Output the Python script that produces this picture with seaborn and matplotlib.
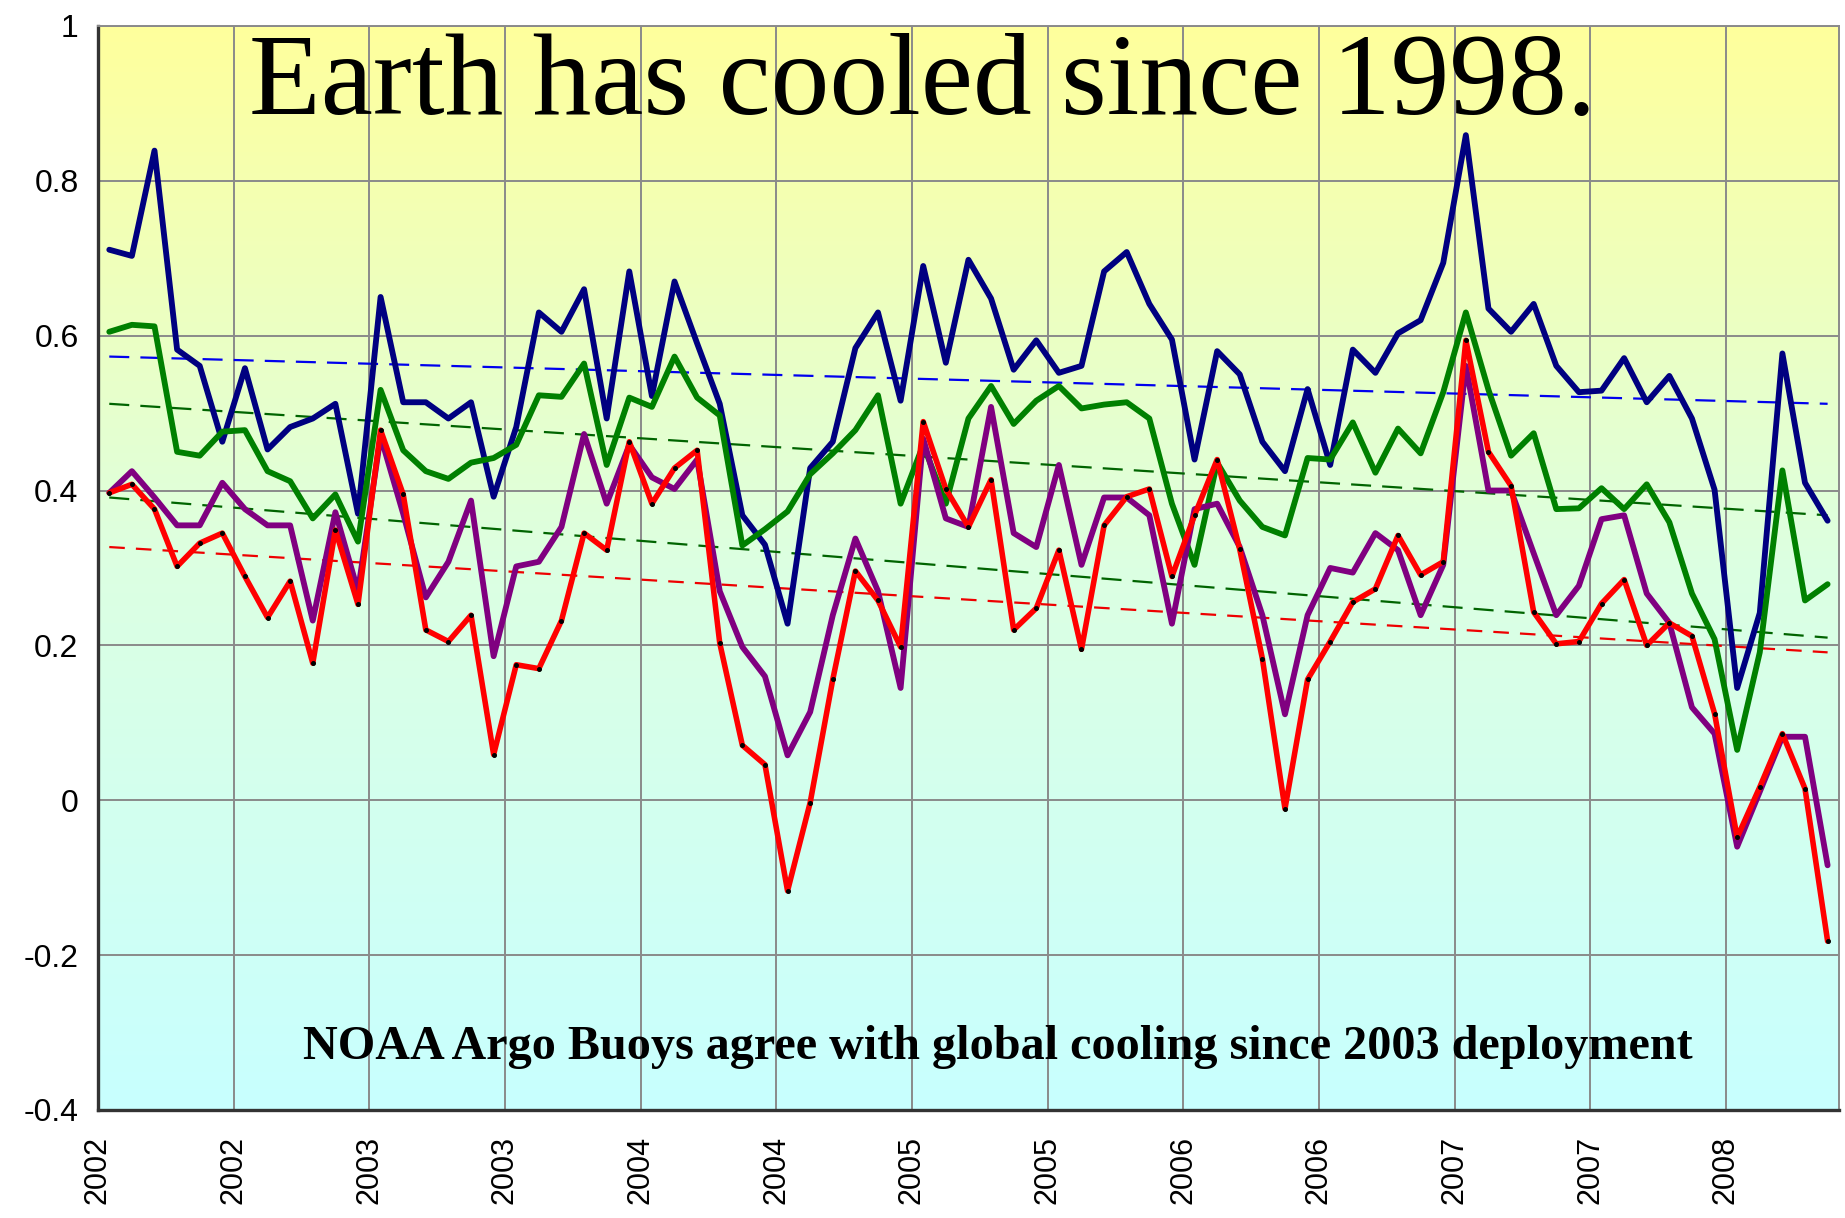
import numpy as np
import pandas as pd
import seaborn as sns
import matplotlib.pyplot as plt
from matplotlib.colors import LinearSegmentedColormap

# monthly temperature anomalies from Jan 2002 (77 months)
months = np.arange(77)

navy = [0.711, 0.703, 0.839, 0.582, 0.561, 0.463, 0.558, 0.453, 0.482, 0.493,
        0.512, 0.370, 0.650, 0.514, 0.514, 0.493, 0.514, 0.392, 0.482, 0.630,
        0.605, 0.660, 0.493, 0.683, 0.522, 0.670, 0.590, 0.512, 0.368, 0.330,
        0.228, 0.429, 0.463, 0.584, 0.630, 0.516, 0.690, 0.565, 0.698, 0.648,
        0.556, 0.594, 0.552, 0.561, 0.683, 0.708, 0.641, 0.595, 0.440, 0.580,
        0.550, 0.463, 0.425, 0.531, 0.433, 0.582, 0.552, 0.603, 0.620, 0.694,
        0.859, 0.635, 0.605, 0.641, 0.561, 0.527, 0.529, 0.571, 0.514, 0.548,
        0.493, 0.401, 0.145, 0.242, 0.577, 0.410, 0.361]

green = [0.605, 0.614, 0.612, 0.450, 0.445, 0.476, 0.478, 0.425, 0.412, 0.364,
         0.395, 0.334, 0.530, 0.452, 0.425, 0.415, 0.436, 0.442, 0.459, 0.523,
         0.521, 0.564, 0.433, 0.520, 0.508, 0.573, 0.520, 0.497, 0.329, 0.350,
         0.373, 0.421, 0.448, 0.478, 0.523, 0.383, 0.459, 0.383, 0.493, 0.535,
         0.486, 0.516, 0.535, 0.506, 0.511, 0.514, 0.493, 0.383, 0.304, 0.436,
         0.387, 0.353, 0.342, 0.442, 0.440, 0.488, 0.423, 0.480, 0.448, 0.527,
         0.630, 0.530, 0.445, 0.474, 0.376, 0.377, 0.403, 0.376, 0.408, 0.359,
         0.267, 0.208, 0.065, 0.191, 0.426, 0.258, 0.279]

purple = [0.397, 0.425, 0.391, 0.355, 0.355, 0.410, 0.376, 0.355, 0.355, 0.232,
          0.372, 0.270, 0.470, 0.370, 0.262, 0.308, 0.387, 0.186, 0.302, 0.308,
          0.353, 0.473, 0.383, 0.459, 0.417, 0.402, 0.440, 0.270, 0.198, 0.160,
          0.058, 0.114, 0.239, 0.338, 0.270, 0.145, 0.467, 0.364, 0.353, 0.508,
          0.345, 0.327, 0.433, 0.304, 0.391, 0.391, 0.368, 0.228, 0.376, 0.383,
          0.327, 0.239, 0.111, 0.239, 0.300, 0.294, 0.345, 0.323, 0.239, 0.304,
          0.561, 0.400, 0.400, 0.319, 0.239, 0.277, 0.363, 0.368, 0.267, 0.229,
          0.120, 0.086, -0.060, 0.011, 0.082, 0.082, -0.084]

red = [0.397, 0.408, 0.376, 0.302, 0.332, 0.345, 0.289, 0.236, 0.283, 0.177,
       0.349, 0.253, 0.478, 0.395, 0.220, 0.205, 0.239, 0.059, 0.175, 0.170,
       0.232, 0.345, 0.323, 0.463, 0.383, 0.429, 0.452, 0.203, 0.071, 0.046,
       -0.117, -0.003, 0.156, 0.296, 0.258, 0.198, 0.489, 0.402, 0.353, 0.414,
       0.220, 0.248, 0.323, 0.195, 0.355, 0.392, 0.402, 0.289, 0.368, 0.440,
       0.324, 0.183, -0.011, 0.156, 0.205, 0.256, 0.273, 0.342, 0.291, 0.308,
       0.594, 0.450, 0.406, 0.243, 0.202, 0.205, 0.254, 0.285, 0.200, 0.229,
       0.212, 0.112, -0.048, 0.017, 0.086, 0.015, -0.182]

# linear trends: value at first and last month
trend_navy = [0.573, 0.512]
trend_green = [0.512, 0.368]
trend_purple = [0.391, 0.210]
trend_red = [0.327, 0.191]

tick_pos = np.arange(-0.5, 77, 6)
tick_labels = ["2002", "2002", "2003", "2003", "2004", "2004", "2005",
               "2005", "2006", "2006", "2007", "2007", "2008"]
y_ticks = [-0.4, -0.2, 0, 0.2, 0.4, 0.6, 0.8, 1]

df = pd.DataFrame({"month": months, "navy": navy, "green": green,
                   "purple": purple, "red": red})

sns.set_style("white")
plt.rcParams['font.family'] = ['Liberation Sans', 'DejaVu Sans']
plt.rcParams['text.color'] = 'black'
plt.rcParams['xtick.color'] = 'black'
plt.rcParams['ytick.color'] = 'black'

fig = plt.figure(figsize=(18.45, 12.18), dpi=100)
ax = fig.add_axes([0.0531, 0.0887, 0.9436, 0.89])

# yellow -> cyan backdrop
bg = LinearSegmentedColormap.from_list("bg", ["#c8ffff", "#dcffe2", "#ffff9c"])
ax.imshow(np.linspace(0, 1, 256).reshape(-1, 1), cmap=bg, origin="lower",
          extent=[0, 1, 0, 1], transform=ax.transAxes, aspect="auto", zorder=0)

trend_x = [months[0], months[-1]]
for vals, color, dash in [(trend_navy, "#0000ee", (9, 5)),
                          (trend_green, "#006400", (9, 5)),
                          (trend_purple, "#006400", (9, 5)),
                          (trend_red, "#ee0000", (7, 5))]:
    sns.lineplot(x=trend_x, y=vals, color=color, linewidth=1.6,
                 linestyle=(0, dash), ax=ax, zorder=2)

sns.lineplot(data=df, x="month", y="navy", color="#000080", linewidth=4.2,
             ax=ax, zorder=3)
sns.lineplot(data=df, x="month", y="green", color="#008000", linewidth=4.2,
             ax=ax, zorder=3)
sns.lineplot(data=df, x="month", y="purple", color="#800080", linewidth=4.2,
             ax=ax, zorder=3)
sns.lineplot(data=df, x="month", y="red", color="#ff0000", linewidth=4.0,
             marker="o", markersize=2.8, markerfacecolor="k",
             markeredgecolor="k", ax=ax, zorder=4)

ax.set_xlim(-0.5, 76.5)
ax.set_ylim(-0.4, 1.0)
ax.set_xticks(tick_pos)
ax.set_xticklabels(tick_labels, rotation=90, fontsize=22)
ax.set_yticks(y_ticks)
ax.set_yticklabels([f"{v:g}" for v in y_ticks], fontsize=23)
ax.tick_params(axis="both", direction="out", length=9, width=1.5,
               color="#404040", pad=5, labelcolor="black")
ax.tick_params(axis="x", pad=10)
ax.set_xlabel("")
ax.set_ylabel("")

ax.set_axisbelow(True)
ax.grid(True, color="#8a8a8a", linewidth=1.4)
for side in ["left", "bottom"]:
    ax.spines[side].set_color("#333333")
    ax.spines[side].set_linewidth(2.4)
for side in ["top", "right"]:
    ax.spines[side].set_color("#8a8a8a")
    ax.spines[side].set_linewidth(1.4)

ax.text(0.087, 0.919, "Earth has cooled since 1998.", transform=ax.transAxes,
        fontsize=84.5, color="black", family=["Liberation Serif", "DejaVu Serif"],
        va="baseline", ha="left", zorder=5)
ax.text(0.118, 0.047, "NOAA Argo Buoys agree with global cooling since 2003 deployment",
        transform=ax.transAxes, fontsize=34.7, fontweight="bold", color="black",
        family=["Liberation Serif", "DejaVu Serif"], va="baseline", ha="left",
        zorder=5)

fig.savefig("out.png", dpi=100)
